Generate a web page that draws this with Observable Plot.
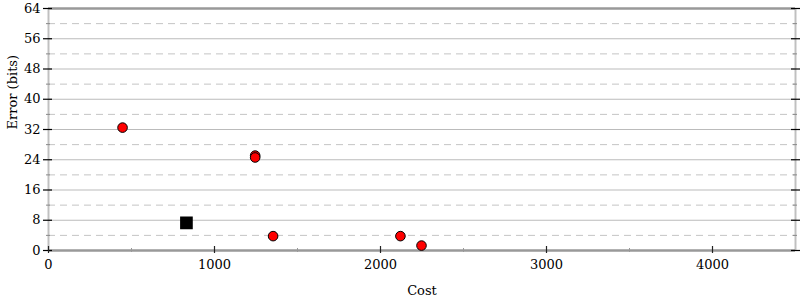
<!DOCTYPE html>
<html><head><meta charset="utf-8">
<script src="https://cdn.jsdelivr.net/npm/d3@7"></script>
<script src="https://cdn.jsdelivr.net/npm/@observablehq/plot@0.6"></script>
<style>body{margin:0;background:#fff}</style>
</head><body><div id="chart"></div>
<script>
const redCost = [446, 1245, 1245, 1353, 2120, 2247];
const redError = [32.5, 25.1, 24.6, 3.8, 3.8, 1.3];
const squareCost = [831];
const squareError = [7.3];
const yMajorTicks = [0, 8, 16, 24, 32, 40, 48, 56, 64];
const yMinorTicks = [4, 12, 20, 28, 36, 44, 52, 60];
const xMajorTicks = [0, 1000, 2000, 3000, 4000];
const xMinorTicks = [500, 1500, 2500, 3500];
const xDomain = [0, 4500];
const yDomain = [0, 64];

const red = redCost.map((c, i) => ({cost: c, error: redError[i]}));
const sq = squareCost.map((c, i) => ({cost: c, error: squareError[i]}));
const blank = () => "";

const chart = Plot.plot({
  width: 800, height: 300,
  marginLeft: 48, marginRight: 5, marginTop: 8, marginBottom: 50,
  x: {domain: xDomain},
  y: {domain: yDomain},
  style: {fontFamily: "DejaVu Serif", fontSize: "13px", color: "#000", background: "#fff"},
  marks: [
    Plot.ruleY(yMajorTicks.slice(1, -1), {stroke: "#bbb", strokeWidth: 1.2}),
    Plot.ruleY(yMinorTicks, {stroke: "#c4c4c4", strokeWidth: 1, strokeDasharray: "7,5"}),
    Plot.ruleX(xDomain, {stroke: "#c0c0c0", strokeWidth: 2}),
    Plot.ruleY(yDomain, {stroke: "#999", strokeWidth: 2.5}),
    // left y axis
    Plot.axisY({ticks: yMajorTicks, tickSize: 0, tickPadding: 8, tickFormat: "d", label: null, fontSize: 13}),
    Plot.axisY({ticks: yMajorTicks, anchor: "left", tickSize: 9, dx: 4, tickFormat: blank, label: null, stroke: "#000", strokeWidth: 1.2}),
    Plot.axisY({ticks: yMinorTicks, anchor: "left", tickSize: 4, dx: 2, tickFormat: blank, label: null, stroke: "#888", strokeWidth: 1}),
    Plot.axisY({ticks: yMajorTicks, anchor: "right", tickSize: 9, dx: -5, tickFormat: blank, label: null, stroke: "#000", strokeWidth: 1.2}),
    Plot.axisY({ticks: yMinorTicks, anchor: "right", tickSize: 4, dx: -3, tickFormat: blank, label: null, stroke: "#888", strokeWidth: 1}),
    Plot.text(["Error (bits)"], {frameAnchor: "left", dx: -36, rotate: -90, fontSize: 13, fill: "#000"}),
    // bottom x axis
    Plot.axisX({ticks: xMajorTicks, tickSize: 0, tickPadding: 9, tickFormat: "d", label: null, fontSize: 13}),
    Plot.axisX({ticks: xMajorTicks, anchor: "bottom", tickSize: 7, dy: -4, tickFormat: blank, label: null, stroke: "#222", strokeWidth: 1.2}),
    Plot.axisX({ticks: xMinorTicks, anchor: "bottom", tickSize: 4, dy: -2, tickFormat: blank, label: null, stroke: "#999", strokeWidth: 1}),
    Plot.text(["Cost"], {frameAnchor: "bottom", dy: 44, fontSize: 13, fill: "#000"}),
    // data
    Plot.dot(sq, {x: "cost", y: "error", symbol: "square", r: 6.3, fill: "#000", stroke: "#000"}),
    Plot.dot(red, {x: "cost", y: "error", r: 4.8, fill: "#ff0000", stroke: "#000", strokeWidth: 1})
  ]
});
document.getElementById("chart").appendChild(chart);
</script>
</body></html>
